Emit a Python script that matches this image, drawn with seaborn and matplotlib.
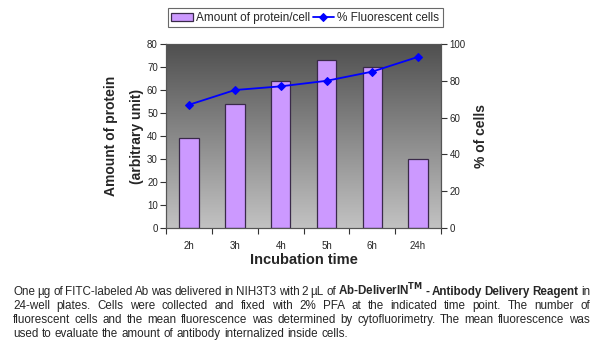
import matplotlib
matplotlib.use('Agg')
import matplotlib.pyplot as plt
import seaborn as sns
import numpy as np
import pandas as pd

# Data
times = ['2h', '3h', '4h', '5h', '6h', '24h']
protein = [39, 54, 64, 73, 70, 30]
fluor_cells = [67, 75, 77, 80, 85, 93]

caption = [
    [('One µg of FITC-labeled Ab was delivered in NIH3T3 with 2 µL of', 'normal'),
     (r'Ab-DeliverIN$^{\mathbf{TM}}$ - Antibody Delivery Reagent', 'bold'),
     ('in', 'normal')],
    [('24-well plates. Cells were collected and fixed with 2% PFA at the indicated time point. The number of', 'normal')],
    [('fluorescent cells and the mean fluorescence was determined by cytofluorimetry. The mean fluorescence was', 'normal')],
    [('used to evaluate the amount of antibody internalized inside cells.', 'normal')],
]

sns.set_style('white')
plt.rcParams['font.family'] = ['Liberation Sans', 'DejaVu Sans']

df = pd.DataFrame({'time': times, 'protein': protein, 'cells': fluor_cells})

fig = plt.figure(figsize=(6, 3.52), dpi=100)
ax = fig.add_axes([0.277, 0.352, 0.458, 0.523])

# gray gradient background like the original plot area
grad = np.linspace(0, 1, 256).reshape(-1, 1)
cmap = matplotlib.colors.LinearSegmentedColormap.from_list('g', ['#c2c2c2', '#4f4f4f'])
ax.imshow(grad, cmap=cmap, extent=[0, 1, 0, 1], transform=ax.transAxes,
          aspect='auto', origin='lower', zorder=0)

sns.barplot(data=df, x='time', y='protein', color='#cc99ff', width=0.42,
            edgecolor='#3a2a4a', linewidth=0.9, saturation=1, ax=ax, zorder=2,
            label='Amount of protein/cell')
ax.set_xlim(-0.5, 5.5)
ax.set_ylim(0, 80)
ax.set_yticks(range(0, 81, 10))
ax.set_xlabel('Incubation time', fontsize=10.5, fontweight='bold', labelpad=2)
ax.set_ylabel('Amount of protein\n(arbitrary unit)', fontsize=10, fontweight='bold',
              labelpad=2, linespacing=2.1)

ax2 = ax.twinx()
sns.lineplot(data=df, x='time', y='cells', color='#0000ff', marker='D', markersize=4.5,
             markeredgecolor='#0000ff', linewidth=1.3, ax=ax2, label='% Fluorescent cells')
ax2.set_ylim(0, 100)
ax2.set_yticks(range(0, 101, 20))
ax2.set_ylabel('% of cells', fontsize=10, fontweight='bold', labelpad=6)
ax2.set_xlim(-0.5, 5.5)

for a in (ax, ax2):
    for s in a.spines.values():
        s.set_color('#555555')
        s.set_linewidth(0.8)
    a.tick_params(axis='y', labelsize=7, length=4, width=0.8, color='#333333', pad=2)

ax.tick_params(axis='y', left=True, direction='out')
ax2.tick_params(axis='y', right=True, direction='out')
ax.set_xticks(np.arange(-0.5, 6, 1), minor=True)
ax.tick_params(axis='x', which='major', length=0, labelsize=7, pad=9)
ax.tick_params(axis='x', which='minor', bottom=True, length=4, width=0.8,
               color='#333333', direction='out')

# combined legend above the plot
h1, l1 = ax.get_legend_handles_labels()
h2, l2 = ax2.get_legend_handles_labels()
for a in (ax, ax2):
    if a.get_legend():
        a.get_legend().remove()
leg = fig.legend(h1 + h2, l1 + l2, loc='center', bbox_to_anchor=(0.509, 0.949), ncol=2,
                 fontsize=8.5, frameon=True, fancybox=False, edgecolor='#444444',
                 handlelength=1.8, handletextpad=0.3, columnspacing=0.2, borderpad=0.3)
leg.get_frame().set_linewidth(0.8)

# caption below the chart, justified word by word
cap_font = ['Liberation Sans', 'DejaVu Sans']
fs = 8.4
x_left, x_right = 13, 590
baselines = [0.162, 0.122, 0.082, 0.044]
renderer = fig.canvas.get_renderer()
W = fig.bbox.width

probe1 = fig.text(0, 0, 'a a', fontsize=fs, family=cap_font)
probe2 = fig.text(0, 0, 'aa', fontsize=fs, family=cap_font)
space = probe1.get_window_extent(renderer).width - probe2.get_window_extent(renderer).width
probe1.remove()
probe2.remove()

for i, line in enumerate(caption):
    words = []
    for seg, weight in line:
        words.extend((w, weight) for w in seg.split(' '))
    texts = [fig.text(0, baselines[i], w, fontsize=fs, fontweight=weight,
                      family=cap_font, va='baseline', ha='left') for w, weight in words]
    widths = [t.get_window_extent(renderer).width for t in texts]
    if i < len(caption) - 1:
        gap = (x_right - x_left - sum(widths)) / (len(texts) - 1)
    else:
        gap = space
    x = x_left
    for t, w in zip(texts, widths):
        t.set_x(x / W)
        x += w + gap

fig.savefig('out.png', dpi=100, facecolor='white')
plt.close()
